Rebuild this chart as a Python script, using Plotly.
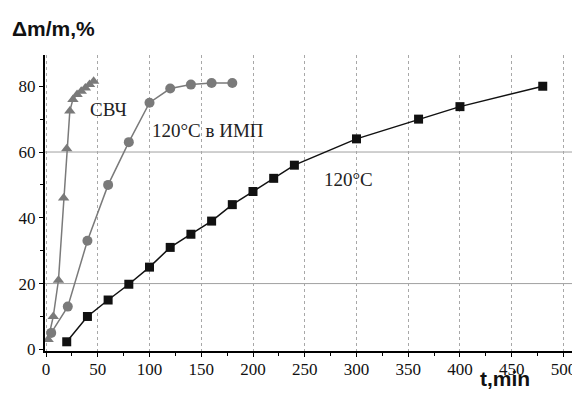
import plotly.graph_objects as go

# Data
t_120 = [20, 40, 60, 80, 100, 120, 140, 160, 180, 200, 220, 240, 300, 360, 400, 480]
m_120 = [2.3, 10, 15, 19.8, 25, 31, 35, 39, 44, 48, 52, 56, 64, 70, 73.8, 80]

t_imp = [5, 21, 40, 60, 80, 100, 120, 140, 160, 180]
m_imp = [5, 13, 33, 50, 63, 75, 79.3, 80.5, 81, 81]

t_svch = [2, 7, 12, 17, 20, 23, 26, 30, 34, 38, 42, 46]
m_svch = [3, 10, 21, 46, 61, 72.5, 76, 77.5, 78.5, 79.5, 80.5, 81.5]

x_ticks = [0, 50, 100, 150, 200, 250, 300, 350, 400, 450, 500]
y_ticks = [0, 20, 40, 60, 80]
h_grid = [20, 60]

labels = ["СВЧ", "120°С в ИМП", "120°С"]
label_x = [60, 156.5, 292.7]
label_y = [72.8, 66.4, 51.5]

serif = "Liberation Serif"
gray = "#7a7a7a"

fig = go.Figure()

for yv in h_grid:
    fig.add_hline(y=yv, line=dict(color="#a0a0a0", width=1), layer="below")

fig.add_trace(go.Scatter(
    x=t_svch, y=m_svch, mode="lines+markers",
    line=dict(color=gray, width=1.5),
    marker=dict(symbol="triangle-up", size=10, color=gray),
    showlegend=False))
fig.add_trace(go.Scatter(
    x=t_imp, y=m_imp, mode="lines+markers",
    line=dict(color=gray, width=1.5),
    marker=dict(symbol="circle", size=10, color=gray),
    showlegend=False))
fig.add_trace(go.Scatter(
    x=t_120, y=m_120, mode="lines+markers",
    line=dict(color="#111111", width=1.5),
    marker=dict(symbol="square", size=9, color="#111111"),
    showlegend=False))

for txt, xv, yv in zip(labels, label_x, label_y):
    fig.add_annotation(x=xv, y=yv, text=txt, showarrow=False,
                       font=dict(family=serif, size=19, color="#222222"))

fig.add_annotation(xref="paper", yref="paper", x=-0.0654, y=1.091, xanchor="left", yanchor="middle",
                   text="<b>Δm/m,%</b>", showarrow=False,
                   font=dict(family="Liberation Sans", size=21, color="#111111"))
fig.add_annotation(xref="paper", yref="paper", x=0.86, y=-0.14, xanchor="center", yanchor="bottom",
                   text="<b>t,min</b>", showarrow=False,
                   font=dict(family="Liberation Sans", size=21, color="#111111"))

fig.update_layout(
    width=572, height=386,
    margin=dict(l=37, r=0, t=47, b=43),
    paper_bgcolor="white", plot_bgcolor="white",
    xaxis=dict(range=[-1, 516], tickvals=x_ticks, showgrid=True,
               gridcolor="#a8a8a8", griddash="dot", gridwidth=1,
               showline=True, linecolor="black", linewidth=2,
               ticks="outside", ticklen=4, tickcolor="black",
               minor=dict(ticks="outside", ticklen=3, dtick=25, tickcolor="black"),
               zeroline=False, ticklabelstandoff=-2,
               tickfont=dict(family=serif, size=17, color="#111111")),
    yaxis=dict(range=[-0.5, 89.5], tickvals=y_ticks, showgrid=False,
               showline=True, linecolor="black", linewidth=2,
               ticks="outside", ticklen=4, tickcolor="black",
               minor=dict(ticks="outside", ticklen=3, dtick=10, tickcolor="black"),
               zeroline=False,
               tickfont=dict(family=serif, size=17, color="#111111")),
)

fig.write_html("out.html")
